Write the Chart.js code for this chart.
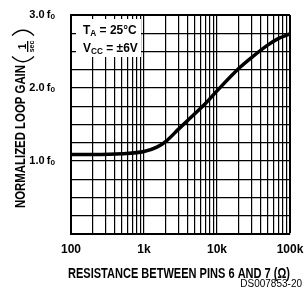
<!DOCTYPE html>
<html>
<head>
<meta charset="utf-8">
<script src="https://cdn.jsdelivr.net/npm/chart.js@4.4.0/dist/chart.umd.min.js"></script>
<style>
  html, body { margin: 0; padding: 0; background: #fff; }
</style>
</head>
<body>
<canvas id="gainChart" width="304" height="299"></canvas>
<script>
// resistance between pins 6 and 7 (ohms) vs normalized loop gain
const resistance = [100, 200, 500, 1000, 1500, 2000, 3000, 5000, 7000, 10000, 20000, 30000, 50000, 70000, 100000];
const loopGain = [1.09, 1.09, 1.10, 1.13, 1.19, 1.27, 1.44, 1.65, 1.79, 1.96, 2.27, 2.42, 2.59, 2.68, 2.74];
const xTickLabels = { 100: '100', 1000: '1k', 10000: '10k', 100000: '100k' };
const yTickLabels = [1, 2, 3];
const decades = [100, 1000, 10000];

const sans = "'Liberation Sans', Arial, sans-serif";

// grid at 1..9 of every decade, plus the last one
const xGrid = [];
decades.forEach(d => {
  for (let m = 1; m < 10; m++) xGrid.push(d * m);
});
xGrid.push(100000);

// bold text squeezed sideways to look like the condensed face of the original
function squeezed(ctx, text, x, y, size, width) {
  ctx.save();
  ctx.font = 'bold ' + size + 'px ' + sans;
  const sx = width / ctx.measureText(text).width;
  ctx.translate(x, y);
  ctx.scale(sx, 1);
  ctx.fillText(text, 0, 0);
  ctx.restore();
}

function drawSub(ctx, parts, x, y, size, sx) {
  parts.forEach(([text, sub]) => {
    ctx.font = 'bold ' + (sub ? 9 : size) + 'px ' + sans;
    ctx.save();
    ctx.translate(x, sub ? y + 2 : y);
    ctx.scale(sx, 1);
    ctx.fillText(text, 0, 0);
    ctx.restore();
    x += ctx.measureText(text).width * sx;
  });
}

const extras = {
  id: 'extras',
  afterDraw(chart) {
    const ctx = chart.ctx;
    ctx.save();

    // conditions box
    ctx.fillStyle = '#fff';
    ctx.fillRect(76, 19, 65, 38);
    ctx.fillStyle = '#000';
    ctx.textBaseline = 'alphabetic';
    ctx.textAlign = 'left';
    drawSub(ctx, [['T', false], ['A', true], [' = 25°C', false]], 83, 34, 13, 0.92);
    drawSub(ctx, [['V', false], ['CC', true], [' = ±6V', false]], 83, 52, 13, 0.92);

    // x axis title
    ctx.textAlign = 'center';
    ctx.textBaseline = 'middle';
    squeezed(ctx, 'RESISTANCE BETWEEN PINS 6 AND 7 (Ω)', 179, 274, 14, 222);

    // y axis title with (1/sec)
    ctx.save();
    ctx.translate(21, 0);
    ctx.rotate(-Math.PI / 2);
    squeezed(ctx, 'NORMALIZED LOOP GAIN', -136.5, 0, 14, 143);
    ctx.font = 'bold 10px ' + sans;
    ctx.fillText('1', -46.5, 2);
    ctx.font = 'bold 7px ' + sans;
    ctx.fillText('sec', -46.5, 11);
    ctx.fillRect(-52, 6, 11, 1.3);
    ctx.restore();

    // parentheses round the fraction
    ctx.strokeStyle = '#000';
    ctx.lineWidth = 1.3;
    ctx.beginPath();
    ctx.moveTo(12, 35.5);
    ctx.quadraticCurveTo(23, 25, 34, 35.5);
    ctx.stroke();
    ctx.beginPath();
    ctx.moveTo(12, 56.5);
    ctx.quadraticCurveTo(23, 67, 34, 56.5);
    ctx.stroke();

    // figure id
    ctx.font = '10px ' + sans;
    ctx.textAlign = 'right';
    ctx.textBaseline = 'alphabetic';
    ctx.fillText('DS007853-20', 302, 287);
    ctx.restore();
  }
};

new Chart(document.getElementById('gainChart'), {
  type: 'line',
  data: {
    datasets: [{
      data: resistance.map((r, i) => ({ x: r, y: loopGain[i] })),
      borderColor: '#000',
      borderWidth: 3.5,
      pointRadius: 0,
      cubicInterpolationMode: 'monotone',
      fill: false
    }]
  },
  options: {
    responsive: false,
    animation: false,
    devicePixelRatio: 1,
    layout: { padding: { top: 15, right: 14, left: 0, bottom: 0 } },
    plugins: { legend: { display: false }, tooltip: { enabled: false } },
    scales: {
      x: {
        type: 'logarithmic',
        min: 100,
        max: 100000,
        afterBuildTicks: s => { s.ticks = xGrid.map(v => ({ value: v })); },
        afterFit: s => {
          s.height = 65;
          s.paddingLeft = 0;
          s.paddingRight = 0;
        },
        grid: {
          color: '#000',
          lineWidth: c => (c.tick && c.tick.value === 100000 ? 2 : 1.2),
          drawTicks: false
        },
        border: { color: '#000', width: 2 },
        ticks: {
          autoSkip: false,
          maxRotation: 0,
          padding: 8,
          color: '#000',
          font: { family: sans, size: 12, weight: 'bold' },
          callback: v => xTickLabels[v] || ''
        }
      },
      y: {
        min: 0,
        max: 3,
        afterFit: s => {
          s.width = 71;
          s.paddingTop = 0;
          s.paddingBottom = 0;
        },
        grid: {
          color: '#000',
          lineWidth: c => (c.tick && c.tick.value === 3 ? 2 : 1.2),
          drawTicks: false
        },
        border: { color: '#000', width: 2 },
        ticks: {
          stepSize: 0.25,
          autoSkip: false,
          padding: 16,
          color: '#000',
          font: { family: sans, size: 11, weight: 'bold' },
          callback: v => (yTickLabels.includes(v) ? v.toFixed(1) + '\u2009fₒ' : '')
        }
      }
    }
  },
  plugins: [extras]
});
</script>
</body>
</html>
